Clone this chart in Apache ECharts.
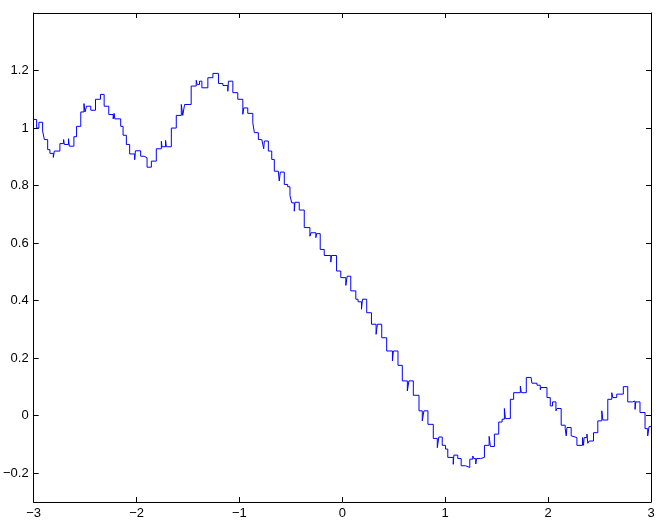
<!DOCTYPE html>
<html>
<head>
<meta charset="utf-8">
<script src="https://cdn.jsdelivr.net/npm/echarts@6/dist/echarts.min.js"></script>
<style>
html, body { margin: 0; padding: 0; background: #fff; }
#main { width: 661px; height: 520px; }
</style>
</head>
<body>
<div id="main"></div>
<script>
// step starts (x) and their levels (y)
var xs = [-3.0, -2.971, -2.949, -2.913, -2.896, -2.864, -2.842, -2.809, -2.799, -2.745, -2.709, -2.702, -2.661, -2.654, -2.609, -2.583, -2.542, -2.511, -2.501, -2.486, -2.445, -2.399, -2.351, -2.315, -2.270, -2.227, -2.218, -2.212, -2.154, -2.131, -2.099, -2.067, -2.018, -2.011,
    -1.960, -1.927, -1.898, -1.856, -1.808, -1.759, -1.753, -1.718, -1.711, -1.662, -1.614, -1.565, -1.551, -1.533, -1.469, -1.420, -1.410, -1.388, -1.365, -1.307, -1.258, -1.204, -1.161, -1.113, -1.107, -1.064, -1.016, -0.967, -0.958,
    -0.919, -0.870, -0.855, -0.816, -0.783, -0.764, -0.758, -0.719, -0.686, -0.661, -0.622, -0.613, -0.603, -0.564, -0.531, -0.509, -0.492, -0.467, -0.460, -0.419, -0.370, -0.315, -0.305, -0.257, -0.250, -0.215, -0.176, -0.112, -0.105, -0.056, -0.015, 0.034, 0.047,
    0.082, 0.131, 0.153, 0.186, 0.196, 0.237, 0.283, 0.328, 0.341, 0.383, 0.431, 0.487, 0.496, 0.541, 0.583, 0.632, 0.647, 0.690, 0.745, 0.777, 0.793, 0.832, 0.884, 0.923, 0.938,
    0.971, 1.003, 1.025, 1.078, 1.084, 1.122, 1.155, 1.197, 1.239, 1.268, 1.277, 1.297, 1.304, 1.342, 1.381, 1.427, 1.439, 1.478, 1.520, 1.553, 1.575, 1.585, 1.633, 1.665, 1.730, 1.740, 1.788, 1.834, 1.843, 1.892, 1.924, 1.931,
    1.989, 2.021, 2.043, 2.076, 2.086, 2.127, 2.166, 2.176, 2.183, 2.224, 2.231, 2.280, 2.334, 2.344, 2.350, 2.377, 2.386, 2.399, 2.441, 2.483, 2.522, 2.532, 2.580, 2.619, 2.629, 2.667, 2.731, 2.774, 2.819, 2.845, 2.852, 2.893, 2.942, 2.968, 2.981, 3.0];

var ys = [1.03, 1.00, 1.02, 0.99, 0.96, 0.925, 0.912, 0.898, 0.92, 0.946, 0.96, 0.943, 0.963, 0.937, 0.97, 1.006, 1.056, 1.085, 1.056, 1.076, 1.062, 1.10, 1.117, 1.076, 1.047, 1.032, 1.051, 1.032, 1.006, 0.975, 0.943, 0.91, 0.89, 0.921,
    0.902, 0.897, 0.864, 0.885, 0.928, 0.954, 0.935, 0.957, 0.935, 1.0, 1.044, 1.082, 1.044, 1.082, 1.146, 1.166, 1.151, 1.163, 1.14, 1.175, 1.19, 1.155, 1.148, 1.128, 1.163, 1.123, 1.10, 1.048, 1.07,
    1.051, 1.018, 0.984, 0.96, 0.963, 0.928, 0.955, 0.92, 0.891, 0.85, 0.845, 0.816, 0.847, 0.804, 0.796, 0.766, 0.74, 0.711, 0.742, 0.715, 0.654, 0.624, 0.636, 0.619, 0.633, 0.578, 0.557, 0.534, 0.557, 0.503, 0.48, 0.453, 0.485,
    0.434, 0.405, 0.396, 0.37, 0.405, 0.358, 0.318, 0.283, 0.318, 0.271, 0.225, 0.19, 0.225, 0.175, 0.121, 0.086, 0.121, 0.071, 0.017, -0.018, 0.017, -0.03, -0.079, -0.111, -0.074,
    -0.103, -0.116, -0.145, -0.169, -0.137, -0.149, -0.174, -0.18, -0.151, -0.14, -0.149, -0.168, -0.149, -0.145, -0.103, -0.072, -0.107, -0.064, -0.022, -0.012, 0.025, -0.01, 0.057, 0.08, 0.103, 0.08, 0.133, 0.138, 0.113, 0.106, 0.09, 0.098,
    0.063, 0.034, 0.048, 0.017, 0.025, -0.033, -0.045, -0.07, -0.041, -0.07, -0.076, -0.103, -0.076, -0.103, -0.076, -0.064, -0.096, -0.088, -0.059, -0.018, 0.017, -0.015, 0.057, 0.08, 0.063, 0.075, 0.101, 0.048, 0.051, 0.022, 0.048, 0.011, -0.045, -0.07, -0.038, -0.038];

var xTicks = [-3, -2, -1, 0, 1, 2, 3];
var yTicks = [-0.2, 0, 0.2, 0.4, 0.6, 0.8, 1, 1.2];

var data = [];
for (var i = 0; i < xs.length; i++) {
    data.push([xs[i], ys[i]]);
}

function minus(v) {
    return String(v).replace('-', '\u2212');
}

var lineStyle = { color: '#000', width: 1 };
var labelFont = { color: '#000', fontSize: 13, fontFamily: 'Liberation Sans' };

var myChart = echarts.init(document.getElementById('main'));
var option = {
    animation: false,
    grid: { left: 32, right: 10, top: 13, bottom: 18 },
    xAxis: [{
        type: 'value', position: 'bottom',
        min: -3, max: 3,
        axisLine: { show: true, onZero: false, lineStyle: lineStyle },
        axisTick: { show: true, inside: true, length: 5, customValues: xTicks, lineStyle: lineStyle },
        axisLabel: Object.assign({ margin: 5, customValues: xTicks, formatter: minus }, labelFont),
        splitLine: { show: false }
    }, {
        type: 'value', position: 'top',
        min: -3, max: 3,
        axisLine: { show: true, onZero: false, lineStyle: lineStyle },
        axisTick: { show: true, inside: true, length: 5, customValues: xTicks, lineStyle: lineStyle },
        axisLabel: { show: false },
        splitLine: { show: false }
    }],
    yAxis: [{
        type: 'value', position: 'left',
        min: -0.3, max: 1.4,
        axisLine: { show: true, onZero: false, lineStyle: lineStyle },
        axisTick: { show: true, inside: true, length: 5, customValues: yTicks, lineStyle: lineStyle },
        axisLabel: Object.assign({ margin: 5, customValues: yTicks, formatter: minus }, labelFont),
        splitLine: { show: false }
    }, {
        type: 'value', position: 'right',
        min: -0.3, max: 1.4,
        axisLine: { show: true, onZero: false, lineStyle: lineStyle },
        axisTick: { show: true, inside: true, length: 5, customValues: yTicks, lineStyle: lineStyle },
        axisLabel: { show: false },
        splitLine: { show: false }
    }],
    series: [{
        type: 'line',
        xAxisIndex: 0,
        yAxisIndex: 0,
        step: 'end',
        showSymbol: false,
        lineStyle: { color: '#0000ff', width: 1 },
        data: data
    }]
};
myChart.setOption(option);
</script>
</body>
</html>
